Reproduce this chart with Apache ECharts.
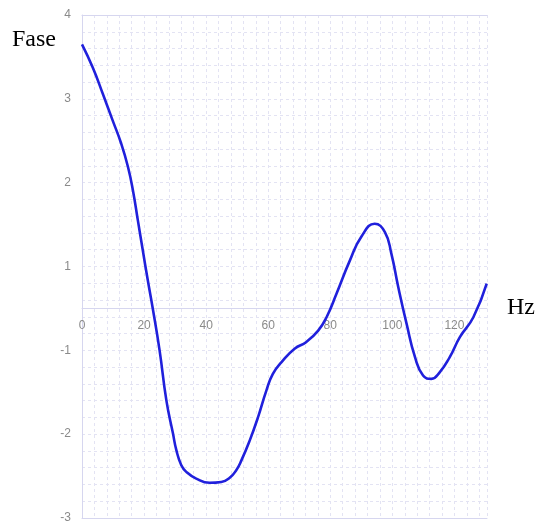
<!DOCTYPE html>
<html>
<head>
<meta charset="utf-8">
<script src="https://cdn.jsdelivr.net/npm/echarts@6/dist/echarts.min.js"></script>
<style>html,body{margin:0;padding:0;background:#fff}#c{width:537px;height:526px}</style>
</head>
<body>
<div id="c"></div>
<script>
// Frequency (Hz) and phase readings (in the chart's y-label units)
var hz = [0, 3.5, 6.7, 9.9, 12.6, 14.8, 16.4, 18.0, 19.6, 21.2, 22.8, 25.0, 27.2, 29.3, 30.4, 32.0, 33.6, 36.8, 41.1, 44.9, 47.6, 49.7, 51.4, 54.0, 56.7, 59.4, 61.5, 64.3, 68.5, 72.3, 76.1, 78.8, 82.0, 86.3, 90.1, 94.3, 97.6, 99.7, 101.9, 104.6, 107.3, 109.9, 112.6, 115.3, 118.5, 121.8, 126.1, 130.4];
var fase = [3.65, 3.37, 3.06, 2.74, 2.47, 2.19, 1.91, 1.55, 1.19, 0.67, 0.0, -1.0, -1.60, -1.99, -2.19, -2.37, -2.45, -2.53, -2.58, -2.57, -2.52, -2.43, -2.31, -2.08, -1.80, -1.48, -1.28, -1.14, -0.96, -0.80, -0.53, -0.21, 0.35, 1.07, 1.36, 1.51, 1.41, 1.15, 0.51, -0.37, -1.08, -1.30, -1.34, -1.26, -1.08, -0.68, -0.21, 0.59];
var yTickLabels = ['-3', '-2', '-1', '1', '2', '3', '4'];
var xTickLabels = ['0', '20', '40', '60', '80', '100', '120'];

// The y scale has equally spaced labels 4,3,2,1,-1,-2,-3 (the [-1,1] span is one step)
function toPos(v) {
  if (v >= 1) return v - 1;
  if (v <= -1) return v;
  return (v - 1) / 2;
}
var data = hz.map(function (h, i) { return [h, toPos(fase[i])]; });

var gridCol = '#e3e3f3';
var axisCol = '#d6d6ef';
var chart = echarts.init(document.getElementById('c'));
chart.setOption({
  animation: false,
  grid: { left: 82, right: 50, top: 15, bottom: 8 },
  xAxis: [{
    type: 'value', min: 0, max: 130.5, interval: 4,
    position: 'bottom', offset: -209.6,
    axisLine: { onZero: false, lineStyle: { color: axisCol, width: 1 } },
    axisTick: { show: false },
    axisLabel: {
      color: '#8a8a8a', fontSize: 12, fontFamily: 'Liberation Sans, Arial, sans-serif', margin: 11,
      showMaxLabel: false,
      formatter: function (v) {
        var idx = xTickLabels.indexOf(String(Math.round(v)));
        return (Math.abs(v - Math.round(v)) < 1e-6 && idx >= 0) ? xTickLabels[idx] : '';
      }
    },
    splitLine: { show: true, lineStyle: { color: gridCol, type: [3, 3], width: 1 } }
  }, {
    type: 'value', min: 0, max: 130.5, position: 'top',
    axisLine: { onZero: false, show: true, lineStyle: { color: axisCol } },
    axisTick: { show: false }, axisLabel: { show: false }, splitLine: { show: false }
  }, {
    type: 'value', min: 0, max: 130.5, position: 'bottom', offset: 0,
    axisLine: { onZero: false, show: true, lineStyle: { color: axisCol } },
    axisTick: { show: false }, axisLabel: { show: false }, splitLine: { show: false }
  }],
  yAxis: {
    type: 'value', min: -3, max: 3, interval: 0.2,
    axisLine: { show: true, onZero: false, lineStyle: { color: axisCol } },
    axisTick: { show: false },
    axisLabel: {
      color: '#8a8a8a', fontSize: 12, fontFamily: 'Liberation Sans, Arial, sans-serif', margin: 11,
      formatter: function (v) {
        var r = Math.round(v);
        if (Math.abs(v - r) > 1e-6) return '';
        return yTickLabels[r + 3];
      }
    },
    splitLine: { show: true, lineStyle: { color: gridCol, type: [3, 3], width: 1 } }
  },
  series: [{
    type: 'line', xAxisIndex: 0, data: data, smooth: 0.5, showSymbol: false,
    lineStyle: { color: '#2020dc', width: 2.6 }
  }],
  graphic: [
    { type: 'text', left: 12, top: 28, style: { text: 'Fase', font: '24px "Liberation Serif", "Times New Roman", serif', fill: '#000' } },
    { type: 'text', left: 507, top: 296, style: { text: 'Hz', font: '24px "Liberation Serif", "Times New Roman", serif', fill: '#000' } }
  ]
});
</script>
</body>
</html>
